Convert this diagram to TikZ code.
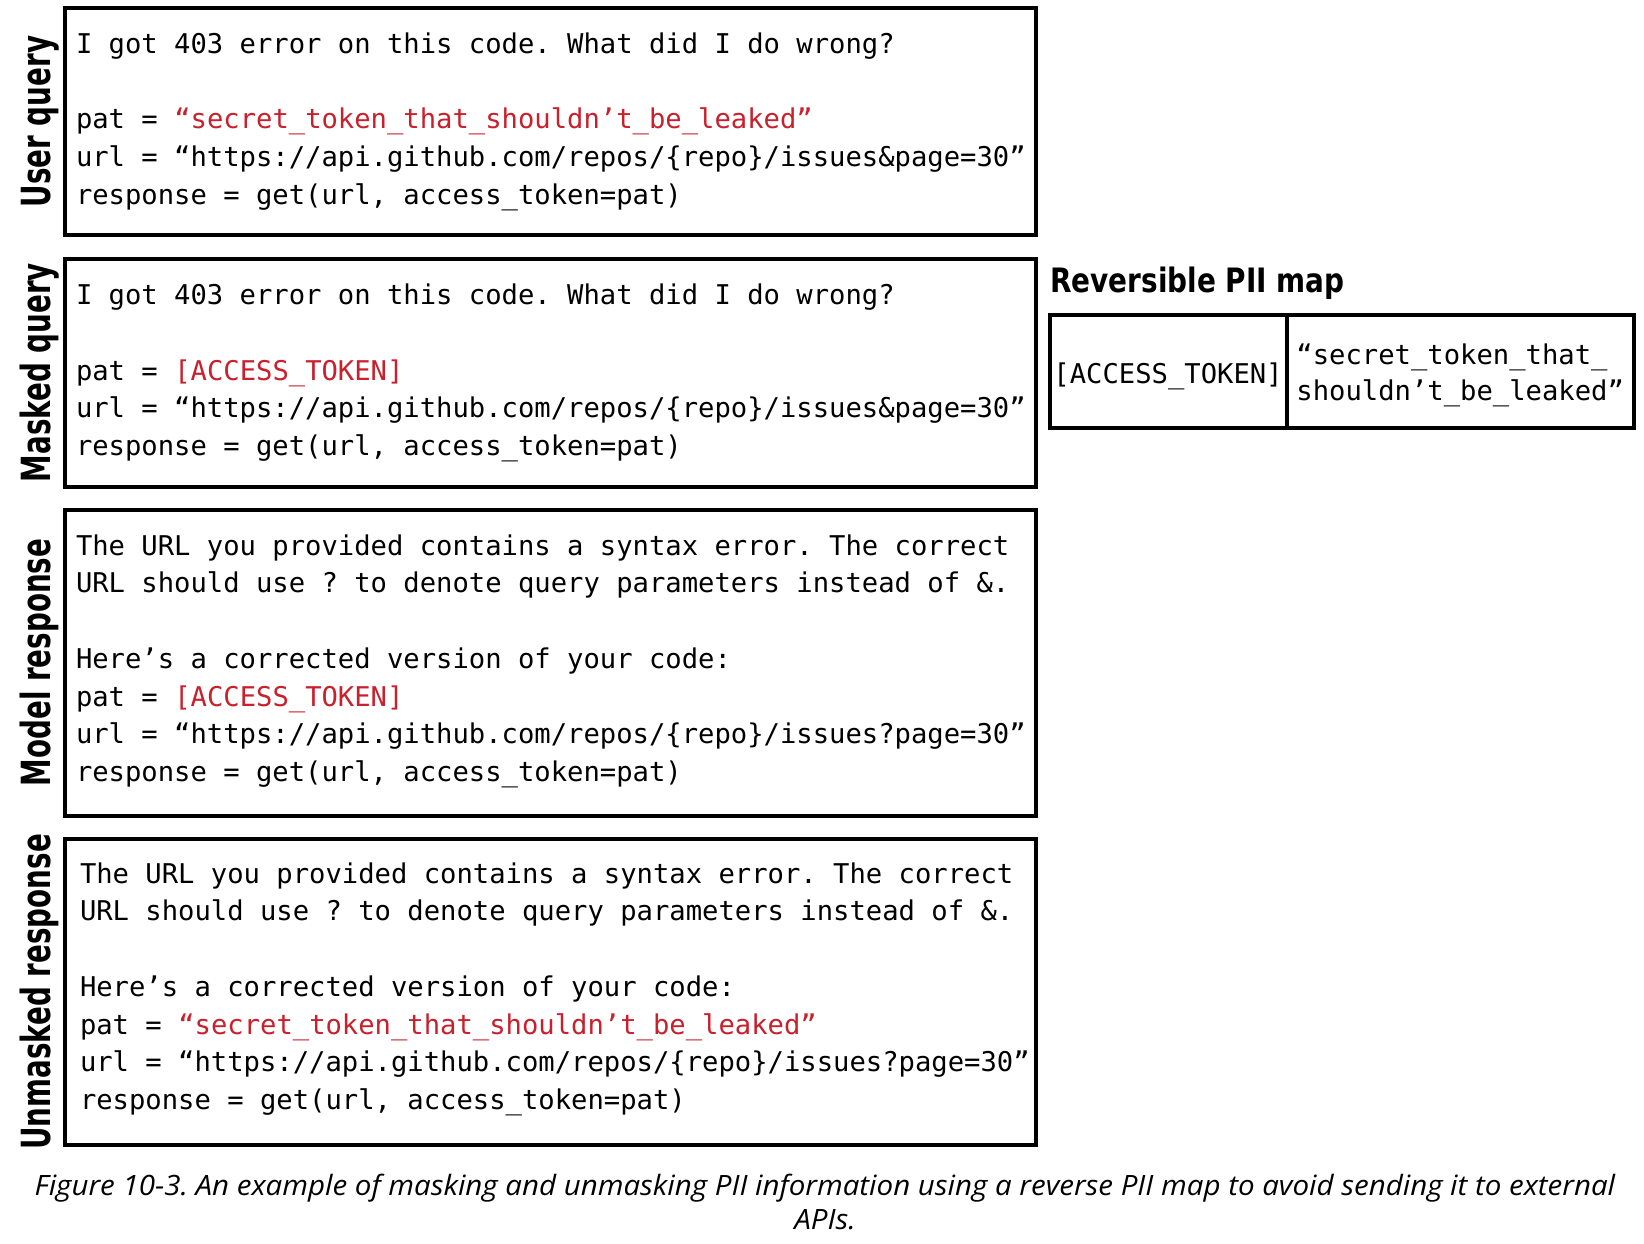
\documentclass[tikz,border=0pt]{standalone}
\usepackage{fontspec}
\setmonofont{DejaVu Sans Mono}
\newfontfamily\lblfont[FakeStretch=0.69]{DejaVu Sans}
\newfontfamily\ttlfont[FakeStretch=0.83]{DejaVu Sans}
\newfontfamily\capfont[FakeStretch=1.054]{Open Sans}
\definecolor{piired}{RGB}{200,32,45}
\newcommand\lnstrut{\rule{0pt}{24pt}}
\newcommand\redtxt[1]{\textcolor{piired}{#1}}
\tikzset{
  panel/.style={draw=black, line width=4pt, inner sep=0pt, outer sep=0pt, anchor=north west},
  codetext/.style={anchor=north west, inner sep=0pt, outer sep=0pt, align=left,
    font=\ttfamily\frenchspacing\fontsize{27.2}{37.75}\selectfont},
  maptext/.style={inner sep=0pt, outer sep=0pt, align=left,
    font=\ttfamily\frenchspacing\fontsize{27.2}{36}\selectfont},
  sidelabel/.style={rotate=90, anchor=base, inner sep=0pt,
    font=\lblfont\bfseries\fontsize{40.2}{48}\selectfont},
  maptitle/.style={anchor=base west, inner sep=0pt,
    font=\ttlfont\bfseries\fontsize{33.6}{40}\selectfont},
  captext/.style={anchor=north, inner sep=0pt, align=center,
    font=\capfont\itshape\fontsize{28}{34}\selectfont}
}
\begin{document}
\frenchspacing
\begin{tikzpicture}[x=1pt,y=-1pt]
\useasboundingbox (0,0) rectangle (1644,1243);
% panels
\node[panel, minimum width=971pt, minimum height=227pt] (uq) at (65,8) {};
\node[panel, minimum width=971pt, minimum height=227.5pt] (mq) at (65,259) {};
\node[panel, minimum width=971pt, minimum height=306pt] (mr) at (65,509.5) {};
\node[panel, minimum width=971pt, minimum height=306.5pt] (ur) at (65,838.5) {};
% side labels
\node[sidelabel] (luq) at (50,121.5) {User query};
\node[sidelabel] (lmq) at (50,372.7) {Masked query};
\node[sidelabel] (lmr) at (50,662.5) {Model response};
\node[sidelabel] (lur) at (50,991.8) {Unmasked response};
% panel texts
\node[codetext] (uqt) at (76,29.3) {\lnstrut I got 403 error on this code. What did I do wrong?\\[37.75pt]pat = \redtxt{“secret\_token\_that\_shouldn’t\_be\_leaked”}\\url = “https://api.github.com/repos/\{repo\}/issues\&page=30”\\response = get(url, access\_token=pat)};
\node[codetext] (mqt) at (76,280.5) {\lnstrut I got 403 error on this code. What did I do wrong?\\[37.75pt]pat = \redtxt{[ACCESS\_TOKEN]}\\url = “https://api.github.com/repos/\{repo\}/issues\&page=30”\\response = get(url, access\_token=pat)};
\node[codetext] (mrt) at (76,531) {\lnstrut The URL you provided contains a syntax error. The correct\\URL should use ? to denote query parameters instead of \&.\\[37.75pt]Here’s a corrected version of your code:\\pat = \redtxt{[ACCESS\_TOKEN]}\\url = “https://api.github.com/repos/\{repo\}/issues?page=30”\\response = get(url, access\_token=pat)};
\node[codetext] (urt) at (80,859) {\lnstrut The URL you provided contains a syntax error. The correct\\URL should use ? to denote query parameters instead of \&.\\[37.75pt]Here’s a corrected version of your code:\\pat = \redtxt{“secret\_token\_that\_shouldn’t\_be\_leaked”}\\url = “https://api.github.com/repos/\{repo\}/issues?page=30”\\response = get(url, access\_token=pat)};
% reversible PII map
\node[maptitle] (mtitle) at (1050,292.7) {Reversible PII map};
\node[panel, minimum width=237pt, minimum height=113.5pt] (mkey) at (1049.5,314.5) {};
\node[panel, minimum width=347.5pt, minimum height=113.5pt] (mval) at (1286.5,314.5) {};
\node[maptext, anchor=base] (mkeyt) at (1168,383) {[ACCESS\_TOKEN]};
\node[maptext, anchor=north west] (mvalt) at (1296.4,340.5) {\lnstrut“secret\_token\_that\_\\shouldn’t\_be\_leaked”};
% caption
\node[captext] (cap) at (825,1169) {\rule{0pt}{26pt}Figure 10-3. An example of masking and unmasking PII information using a reverse PII map to avoid sending it to external\\APIs.};
\end{tikzpicture}
\end{document}
